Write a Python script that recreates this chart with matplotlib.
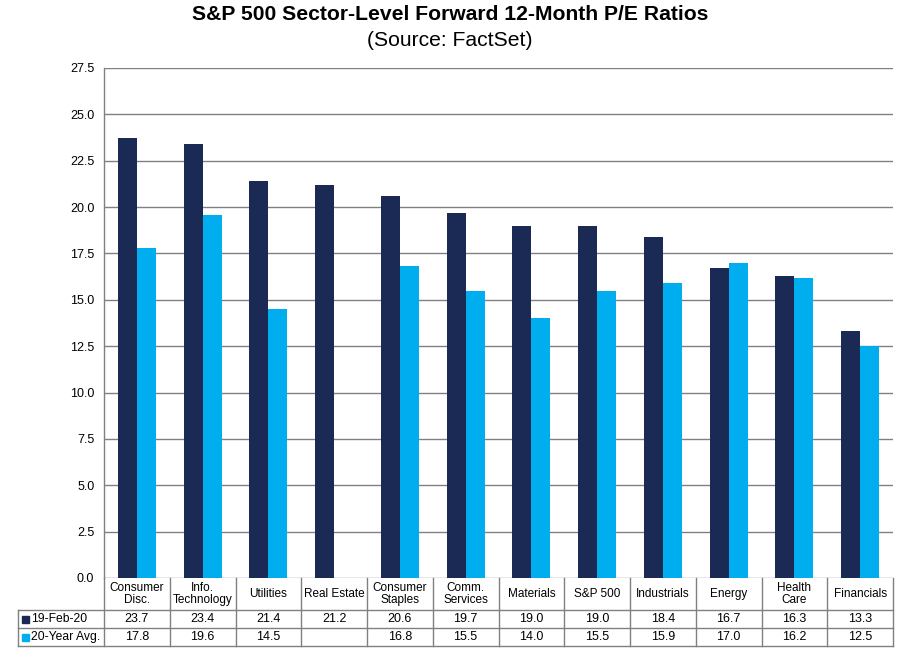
import matplotlib
matplotlib.use("Agg")
import matplotlib.pyplot as plt
from matplotlib.lines import Line2D
from matplotlib.patches import Rectangle
from matplotlib.transforms import blended_transform_factory
import numpy as np

plt.rcParams['font.family'] = ['Liberation Sans', 'DejaVu Sans']

categories = ["Consumer\nDisc.", "Info.\nTechnology", "Utilities", "Real Estate",
              "Consumer\nStaples", "Comm.\nServices", "Materials", "S&P 500",
              "Industrials", "Energy", "Health\nCare", "Financials"]
current = [23.7, 23.4, 21.4, 21.2, 20.6, 19.7, 19.0, 19.0, 18.4, 16.7, 16.3, 13.3]
avg20 = [17.8, 19.6, 14.5, None, 16.8, 15.5, 14.0, 15.5, 15.9, 17.0, 16.2, 12.5]
series_names = ["19-Feb-20", "20-Year Avg."]
yticks = [0.0, 2.5, 5.0, 7.5, 10.0, 12.5, 15.0, 17.5, 20.0, 22.5, 25.0, 27.5]

navy = "#1B2A55"
cyan = "#00AEEF"
grid_c = "#808080"

W, H = 897, 651
fig = plt.figure(figsize=(W/100, H/100), dpi=100)
def fy(py):
    return (H - py) / H
def fx(px):
    return px / W

left, right, top, bottom = 104, 893, 68, 578
ax = fig.add_axes([fx(left), fy(bottom), fx(right) - fx(left), fy(top) - fy(bottom)])

x = np.arange(len(categories))
bw = 0.29
cur_vals = np.array(current, dtype=float)
avg_vals = np.array([np.nan if v is None else v for v in avg20], dtype=float)
ax.bar(x - bw/2, cur_vals, width=bw, color=navy, zorder=3)
ax.bar(x + bw/2, avg_vals, width=bw, color=cyan, zorder=3)

ax.set_xlim(-0.5, len(categories) - 0.5)
ax.set_ylim(0, 27.5)
ax.set_yticks(yticks)
ax.set_yticklabels([f"{t:.1f}" for t in yticks], fontsize=9)
ax.tick_params(axis='y', length=0, pad=7)
ax.set_xticks([])
ax.yaxis.grid(True, color=grid_c, linewidth=1, zorder=0)
for s in ['top', 'right', 'bottom']:
    ax.spines[s].set_visible(False)
ax.spines['left'].set_color(grid_c)
ax.spines['left'].set_linewidth(1)

fig.text(fx(450), fy(15), "S&P 500 Sector-Level Forward 12-Month P/E Ratios",
         ha='center', va='center', fontsize=15.2, fontweight='bold')
fig.text(fx(450), fy(40), "(Source: FactSet)", ha='center', va='center', fontsize=15.2)

# data table
tr = blended_transform_factory(ax.transData, fig.transFigure)
tcol = grid_c
lw = 1
r0, r1, r2, r3 = 578, 610, 628, 646
tleft = 18
for py in (r1, r2, r3):
    fig.add_artist(Line2D([fx(tleft), fx(right)], [fy(py), fy(py)], color=tcol, lw=lw))
for i in range(len(categories) + 1):
    xx = i - 0.5
    fig.add_artist(Line2D([xx, xx], [fy(r0), fy(r3)], transform=tr, color=tcol, lw=lw))
fig.add_artist(Line2D([fx(tleft), fx(tleft)], [fy(r1), fy(r3)], color=tcol, lw=lw))

for i, c in enumerate(categories):
    fig.text(i, fy((r0 + r1) / 2), c, transform=tr, ha='center', va='center',
             fontsize=8.5, linespacing=1.0)
    fig.text(i, fy((r1 + r2) / 2), f"{current[i]:.1f}", transform=tr, ha='center',
             va='center', fontsize=9)
    if avg20[i] is not None:
        fig.text(i, fy((r2 + r3) / 2), f"{avg20[i]:.1f}", transform=tr, ha='center',
                 va='center', fontsize=9)

for (py0, py1), name, col in (((r1, r2), series_names[0], navy), ((r2, r3), series_names[1], cyan)):
    cy = (py0 + py1) / 2
    fig.add_artist(Rectangle((fx(22), fy(cy + 3.5)), fx(7), 7/H, color=col))
    fig.text(fx(31), fy(cy), name, ha='left', va='center', fontsize=8.7)

fig.savefig("out.png", dpi=100)
